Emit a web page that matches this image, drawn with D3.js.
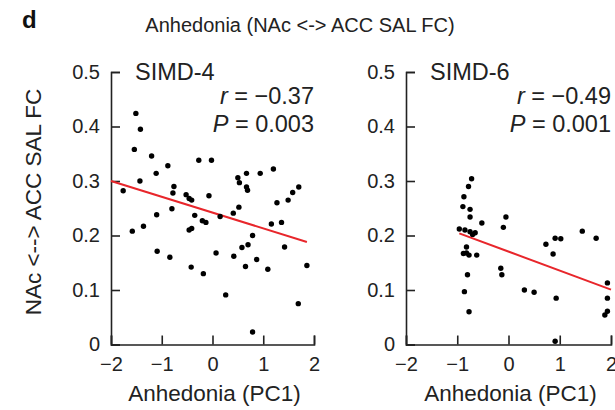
<!DOCTYPE html>
<html><head><meta charset="utf-8">
<script src="https://cdn.jsdelivr.net/npm/d3@7"></script>
<style>
body{margin:0;background:#fff}
svg{display:block}
text{font-family:"Liberation Sans",Arial,Helvetica,sans-serif;fill:#222}
</style>
</head><body>
<svg id="c" width="615" height="410"></svg>
<script>
// ---- data ----
const panelLabel = "d";
const chartTitle = "Anhedonia (NAc <-> ACC SAL FC)";
const yTitle = "NAc <--> ACC SAL FC";
const xTitle = "Anhedonia (PC1)";
const xTicks = [-2, -1, 0, 1, 2];
const yTicks = [0, 0.1, 0.2, 0.3, 0.4, 0.5];
const groups = ["SIMD-4", "SIMD-6"];
const rValues = ["−0.37", "−0.49"];
const pValues = ["0.003", "0.001"];

const simd4X = [-1.51,-1.42,-1.54,-1.20,-0.88,-1.11,-0.27,-0.02,-1.43,-1.76,-0.76,-0.78,-0.52,-0.46,-0.41,-0.80,-0.07,-1.10,-0.35,-0.20,-0.13,0.15,0.41,0.52,0.50,0.53,0.67,0.67,0.69,0.94,1.20,1.27,1.49,1.58,1.70,1.16,1.36,0.79,-1.58,-1.36,-0.46,-0.41,-1.09,-0.84,-0.42,-0.18,0.07,0.42,0.58,0.70,0.65,0.87,1.09,1.42,1.86,0.26,1.69,0.79];
const simd4Y = [0.424,0.395,0.358,0.346,0.328,0.314,0.338,0.338,0.300,0.282,0.290,0.278,0.275,0.268,0.265,0.249,0.273,0.238,0.237,0.227,0.224,0.235,0.241,0.252,0.306,0.297,0.314,0.289,0.283,0.314,0.322,0.260,0.265,0.279,0.289,0.221,0.224,0.200,0.208,0.217,0.210,0.213,0.171,0.160,0.142,0.130,0.168,0.162,0.178,0.183,0.143,0.156,0.138,0.179,0.145,0.091,0.075,0.023];

const simd6X = [-0.72,-0.78,-0.87,-0.89,-0.75,-0.75,-0.52,-0.05,-0.10,-0.96,-0.85,-0.75,-0.65,-0.70,0.73,0.91,1.02,1.44,1.71,-0.88,-0.82,-0.77,-0.62,-0.82,-0.80,-0.86,-0.77,-0.15,-0.13,0.31,0.50,0.87,0.93,0.91,1.93,1.93,1.93,1.88];
const simd6Y = [0.304,0.290,0.271,0.253,0.248,0.234,0.223,0.234,0.215,0.212,0.210,0.207,0.205,0.202,0.184,0.195,0.194,0.208,0.195,0.167,0.168,0.164,0.164,0.179,0.128,0.097,0.060,0.140,0.128,0.100,0.096,0.166,0.085,0.006,0.113,0.085,0.061,0.054];

const fitIntercept = [0.242, 0.1705];
const fitSlope = [-0.029, -0.0349];
const fitXStart = [-2, -0.96];
const fitXEnd = [1.86, 2];

// ---- drawing ----
const svg = d3.select("#c");
const FS = 20;     // tick labels, title
const FL = 22.5;   // axis titles
const FA = 23.5;   // annotations

svg.append("text").attr("x", 22).attr("y", 28).attr("font-size", 24)
  .attr("font-weight", "bold").style("fill", "#111").text(panelLabel);
svg.append("text").attr("x", 300).attr("y", 32).attr("font-size", FS)
  .attr("text-anchor", "middle").text(chartTitle);
svg.append("text").attr("transform", "translate(41,202) rotate(-90)")
  .attr("font-size", FL).attr("text-anchor", "middle").text(yTitle);

const panels = [
  {x0: 111, x1: 314, xs: simd4X, ys: simd4Y},
  {x0: 406, x1: 611, xs: simd6X, ys: simd6Y}
];
const yTop = 72, yBot = 344.5;

panels.forEach((p, i) => {
  const x = d3.scaleLinear().domain([xTicks[0], xTicks[xTicks.length-1]]).range([p.x0, p.x1]);
  const y = d3.scaleLinear().domain([yTicks[0], yTicks[yTicks.length-1]]).range([yBot, yTop]);
  const g = svg.append("g");

  const xa = g.append("g").attr("transform", `translate(0,${yBot})`)
    .call(d3.axisBottom(x).tickValues(xTicks).tickFormat(d3.format("~g"))
      .tickSizeInner(-9).tickSizeOuter(-9).tickPadding(12));
  const ya = g.append("g").attr("transform", `translate(${p.x0},0)`)
    .call(d3.axisLeft(y).tickValues(yTicks).tickFormat(d3.format("~g"))
      .tickSizeInner(-9).tickSizeOuter(-9).tickPadding(11));
  [xa, ya].forEach(a => {
    a.selectAll("path,line").attr("stroke", "#222").attr("stroke-width", 1.6);
    a.selectAll("text").attr("font-size", FS).style("fill", "#222")
      .attr("font-family", "'Liberation Sans',Arial,Helvetica,sans-serif");
  });

  // regression line
  g.append("line")
    .attr("x1", x(fitXStart[i])).attr("y1", y(fitIntercept[i] + fitSlope[i] * fitXStart[i]))
    .attr("x2", x(fitXEnd[i])).attr("y2", y(fitIntercept[i] + fitSlope[i] * fitXEnd[i]))
    .attr("stroke", "#e8262b").attr("stroke-width", 2);

  // points
  g.selectAll("circle.pt").data(p.xs.map((v, k) => [v, p.ys[k]])).join("circle")
    .attr("class", "pt").attr("cx", d => x(d[0])).attr("cy", d => y(d[1]))
    .attr("r", 2.7).attr("fill", "#000");

  g.append("text").attr("x", p.x0 + 24).attr("y", 80).attr("font-size", FA).text(groups[i]);

  const rt = g.append("text").attr("x", p.x1).attr("y", 104).attr("font-size", FA).attr("text-anchor", "end");
  rt.append("tspan").attr("font-style", "italic").text("r");
  rt.append("tspan").text(" = " + rValues[i]);
  const pt = g.append("text").attr("x", p.x1).attr("y", 132).attr("font-size", FA).attr("text-anchor", "end");
  pt.append("tspan").attr("font-style", "italic").text("P");
  pt.append("tspan").text(" = " + pValues[i]);

  g.append("text").attr("x", (p.x0 + p.x1) / 2 + 2).attr("y", 401).attr("font-size", FL)
    .attr("text-anchor", "middle").text(xTitle);
});
</script>
</body></html>
